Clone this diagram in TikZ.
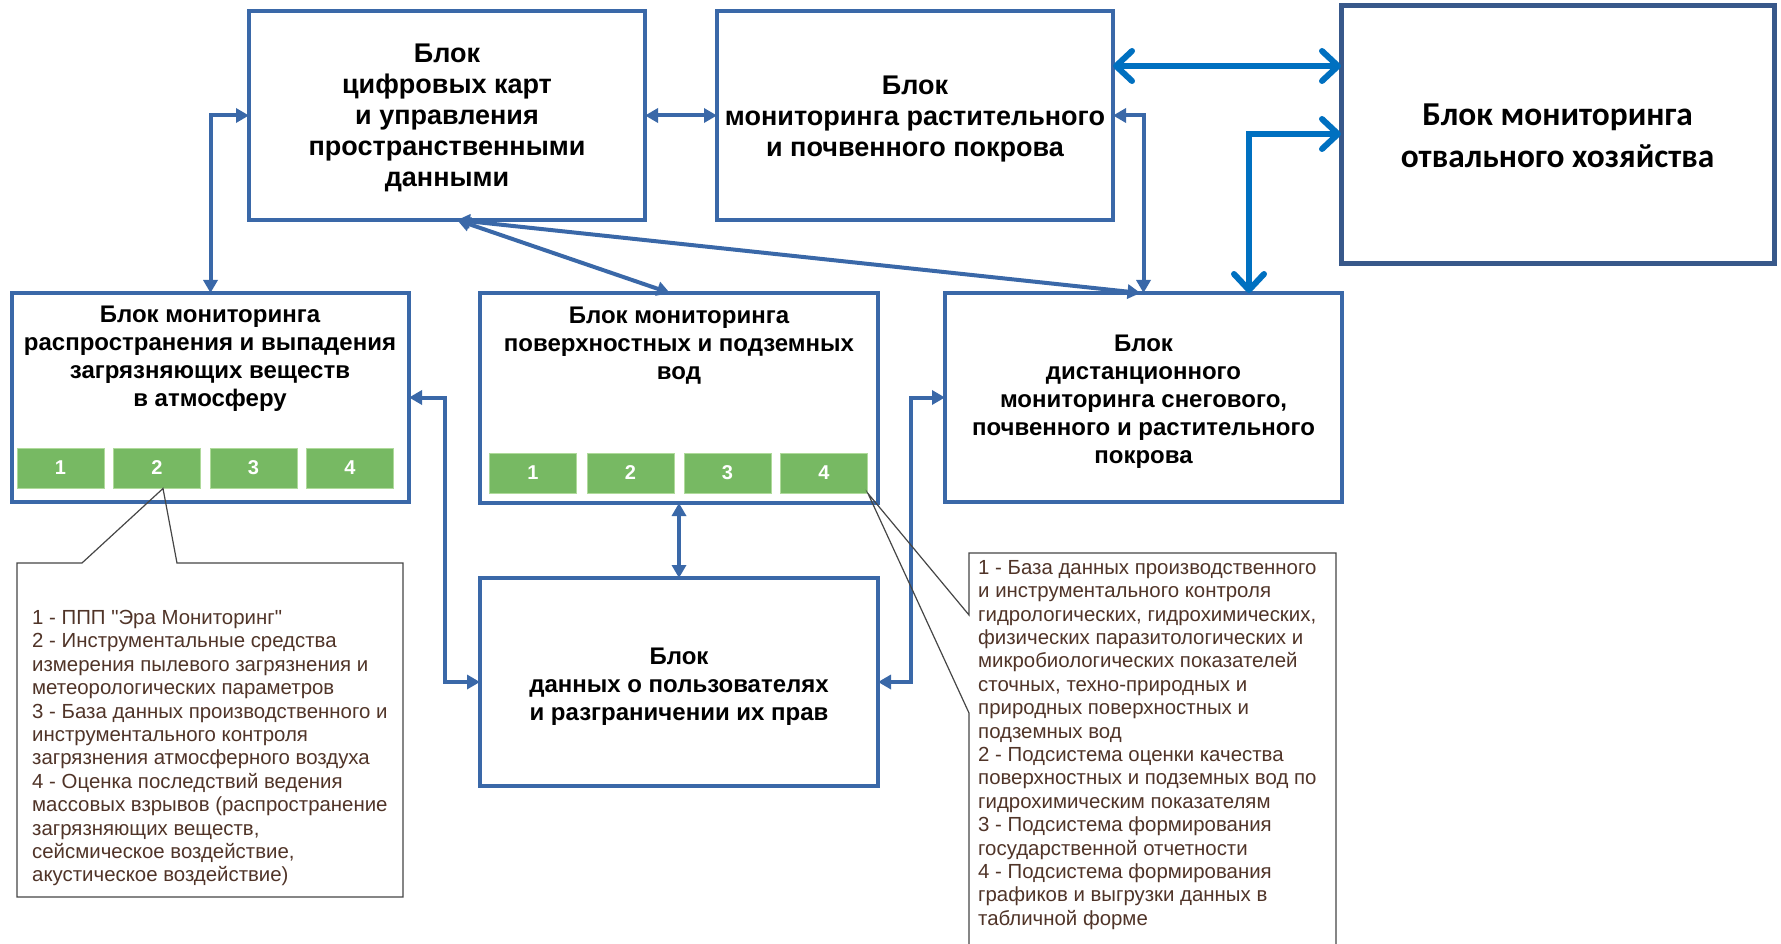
\documentclass[tikz,border=0pt]{standalone}
\usepackage{fontspec}
\setmainfont[Ligatures=TeXOff]{Liberation Sans}
\newfontfamily\narrowsans{Carlito}
\usetikzlibrary{arrows.meta,calc}

\definecolor{boxblue}{RGB}{58,104,168}
\definecolor{darkframe}{RGB}{56,88,138}
\definecolor{linkblue}{RGB}{0,112,192}
\definecolor{cellgreen}{RGB}{119,185,99}
\definecolor{celledge}{RGB}{175,218,155}
\definecolor{notetext}{RGB}{80,52,40}
\definecolor{noteframe}{RGB}{70,70,70}

\begin{document}
\begin{tikzpicture}[x=1pt,y=-1pt,
  block/.style={draw=boxblue,line width=4pt,inner sep=0pt,outer sep=0pt},
  caption/.style={inner sep=0pt,align=center,font=\bfseries\fontsize{24}{28}\selectfont},
  bigcaption/.style={caption,font=\bfseries\fontsize{27}{31}\selectfont},
  cell/.style={fill=cellgreen,draw=celledge,line width=1pt,minimum width=87pt,
    minimum height=40pt,inner sep=0pt,text=white,font=\bfseries\fontsize{20}{24}\selectfont},
  link/.style={draw=boxblue,line width=4pt,
    {Triangle[length=13pt,width=14pt]}-{Triangle[length=13pt,width=14pt]}},
  biglink/.style={draw=linkblue,line width=6pt,
    {Straight Barb[length=16pt,width=30pt,round]}-{Straight Barb[length=16pt,width=30pt,round]}},
  notebody/.style={inner sep=0pt,align=left,text=notetext,
    font=\fontsize{20.4}{23.4}\selectfont},
  noteline/.style={draw=noteframe,line width=1.2pt}
]
\fill[white] (0,0) rectangle (1781,944);
\clip (0,0) rectangle (1781,944);

% main blocks
\node[block,minimum width=396pt,minimum height=209pt] (a) at (447,115.5) {};
\node[block,minimum width=396pt,minimum height=209pt] (b) at (915,115.5) {};
\node[block,draw=darkframe,line width=5pt,minimum width=433pt,minimum height=258pt] (c) at (1557.5,135) {};
\node[block,minimum width=397pt,minimum height=209pt] (e) at (210.5,397.5) {};
\node[block,minimum width=398pt,minimum height=210pt] (f) at (679,398) {};
\node[block,minimum width=397pt,minimum height=209pt] (d) at (1143.5,397.5) {};
\node[block,minimum width=398pt,minimum height=208pt] (g) at (679,682) {};

% block titles
\node[bigcaption] (atext) at ([yshift=-2.3pt]a.center)
  {Блок\\цифровых карт\\и управления\\пространственными\\данными};
\node[bigcaption] (btext) at ([yshift=-3.4pt]b.center)
  {Блок\\мониторинга растительного\\и почвенного покрова};
\node[caption,font=\narrowsans\bfseries\fontsize{33.4}{42}\selectfont] (ctext)
  at ([yshift=-1pt]c.center) {Блок мониторинга\\отвального хозяйства};
\node[caption] (dtext) at ([yshift=-4.5pt]d.center)
  {Блок\\дистанционного\\мониторинга снегового,\\почвенного и растительного\\покрова};
\node[caption] (gtext) at ([yshift=-4.5pt]g.center)
  {Блок\\данных о пользователях\\и разграничении их прав};
\node[caption] (etext) at (210,358.5)
  {Блок мониторинга\\распространения и выпадения\\загрязняющих веществ\\в атмосферу};
\node[caption] (ftext) at (679,345.5)
  {Блок мониторинга\\поверхностных и подземных\\вод};

% sub-cells
\node[cell] (e1) at (60.5,468) {1};
\node[cell] (e2) at (157,468) {2};
\node[cell] (e3) at (253.5,468) {3};
\node[cell] (e4) at (350,468) {4};
\node[cell] (f1) at (533,473) {1};
\node[cell] (f2) at (630.5,473) {2};
\node[cell] (f3) at (727.5,473) {3};
\node[cell] (f4) at (824,473) {4};

% routing points
\coordinate (egx) at (445,0);
\coordinate (dgx) at (911,0);
\coordinate (bcy) at (0,66);
\coordinate (dcx) at (1249,0);
\coordinate (dcy) at (0,134);

% connectors
\draw[link] (e.north) |- (a.west);
\draw[link] (a.east) -- (b.west);
\draw[link] ([xshift=10pt]a.south) -- ([xshift=-9pt]f.north);
\draw[link] ([xshift=10pt]a.south) -- ([xshift=-3pt]d.north);
\draw[link] (b.east) -| (d.north);
\draw[link] (e.east) -| (egx |- g.west) -- (g.west);
\draw[link] (d.west) -| (dgx |- g.east) -- (g.east);
\draw[link] (f.south) -- (g.north);
\draw[biglink] (b.east |- bcy) -- (c.west |- bcy);
\draw[biglink] (dcx |- d.north) |- (c.west |- dcy);

% callout for the atmosphere block
\coordinate (ltip) at ([xshift=6pt]e2.south);
\draw[noteline] (82,563) -- (17,563) -- (17,897) -- (403,897) -- (403,563)
  -- (177,563) -- (ltip) -- cycle;
\node[notebody,anchor=north west] (lnote) at (32,610)
  {1 - ППП "Эра Мониторинг"\\
   2 - Инструментальные средства\\
   измерения пылевого загрязнения и\\
   метеорологических параметров\\
   3 - База данных производственного и\\
   инструментального контроля\\
   загрязнения атмосферного воздуха\\
   4 - Оценка последствий ведения\\
   массовых взрывов (распространение\\
   загрязняющих веществ,\\
   сейсмическое воздействие,\\
   акустическое воздействие)};

% callout for the water block
\coordinate (rtip) at (f4.south east);
\draw[noteline] (969,615) -- (969,553) -- (1336,553) -- (1336,960) -- (969,960)
  -- (969,713) -- (rtip) -- cycle;
\node[notebody,anchor=north west] (rnote) at (978,560)
  {1 - База данных производственного\\
   и инструментального контроля\\
   гидрологических, гидрохимических,\\
   физических паразитологических и\\
   микробиологических показателей\\
   сточных, техно-природных и\\
   природных поверхностных и\\
   подземных вод\\
   2 - Подсистема оценки качества\\
   поверхностных и подземных вод по\\
   гидрохимическим показателям\\
   3 - Подсистема формирования\\
   государственной отчетности\\
   4 - Подсистема формирования\\
   графиков и выгрузки данных в\\
   табличной форме};
\end{tikzpicture}
\end{document}
